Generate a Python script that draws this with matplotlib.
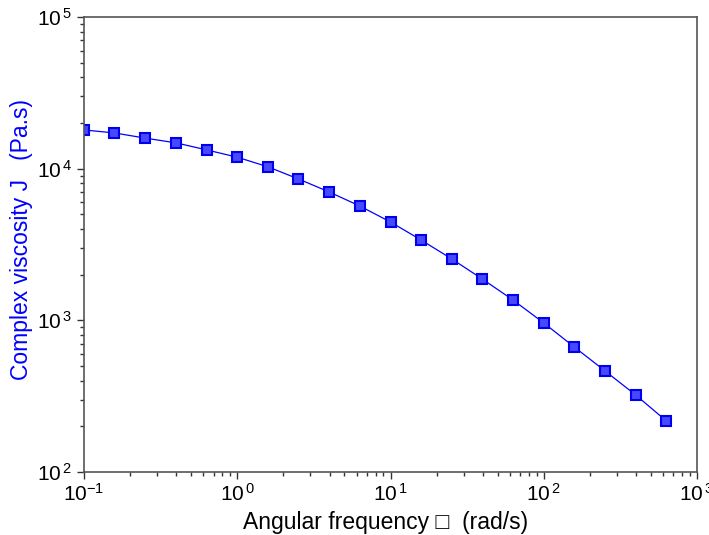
import math
import matplotlib
matplotlib.use("Agg")
import matplotlib.pyplot as plt
from matplotlib.ticker import LogLocator, FuncFormatter

plt.rcParams['font.family'] = ['Liberation Sans', 'DejaVu Sans']
plt.rcParams['mathtext.fontset'] = 'custom'
plt.rcParams['mathtext.rm'] = 'Liberation Sans'

freq = [0.1, 0.158, 0.251, 0.398, 0.631, 1.0, 1.58, 2.51, 3.98, 6.31,
        10.0, 15.8, 25.1, 39.8, 63.1, 100.0, 158.0, 251.0, 398.0, 631.0]
visc = [18000, 17200, 15900, 14800, 13300, 11900, 10300, 8550, 7020, 5670,
        4450, 3390, 2540, 1870, 1360, 961, 668, 464, 322, 217]

W, H = 709, 535
fig = plt.figure(figsize=(W/100, H/100), dpi=100)
ax = fig.add_axes([84/W, 1-472/H, (697-84)/W, (472-17)/H])

ax.plot(freq, visc, color='#0000ff', lw=0.9, marker='s', markersize=7,
        markerfacecolor='#4848ff', markeredgecolor='#0000ee', markeredgewidth=1.5)

ax.set_xscale('log')
ax.set_yscale('log')
ax.set_xlim(0.1, 1000)
ax.set_ylim(100, 100000)

def fmt(v, pos):
    e = int(round(math.log10(v)))
    if e < 0:
        return r'$\mathregular{10^{%d}}$' % e
    return r'$\mathregular{10^{\/%d}}$' % e

ax.xaxis.set_major_locator(LogLocator(base=10, numticks=10))
ax.yaxis.set_major_locator(LogLocator(base=10, numticks=10))
ax.xaxis.set_major_formatter(FuncFormatter(fmt))
ax.yaxis.set_major_formatter(FuncFormatter(fmt))
ax.xaxis.set_minor_locator(LogLocator(base=10, subs=range(2, 10), numticks=20))
ax.yaxis.set_minor_locator(LogLocator(base=10, subs=range(2, 10), numticks=20))
ax.xaxis.set_minor_formatter(FuncFormatter(lambda v, p: ''))
ax.yaxis.set_minor_formatter(FuncFormatter(lambda v, p: ''))

ax.tick_params(which='major', direction='out', length=5, width=1, labelsize=15, color='#333333')
ax.tick_params(which='minor', direction='out', length=3, width=1, color='#333333')
ax.tick_params(axis='x', which='major', pad=3)
for s in ax.spines.values():
    s.set_color('#555555')
    s.set_linewidth(1.2)

fig.text(386/W, 1-522/H, 'Angular frequency \u25a1  (rad/s)', fontsize=16.5,
         ha='center', va='center')
fig.text(22/W, 1-240/H, 'Complex viscosity J   (Pa.s)', fontsize=16.5,
         ha='center', va='center', rotation=90, color='#0000ff')

fig.savefig('out.png', dpi=100)
